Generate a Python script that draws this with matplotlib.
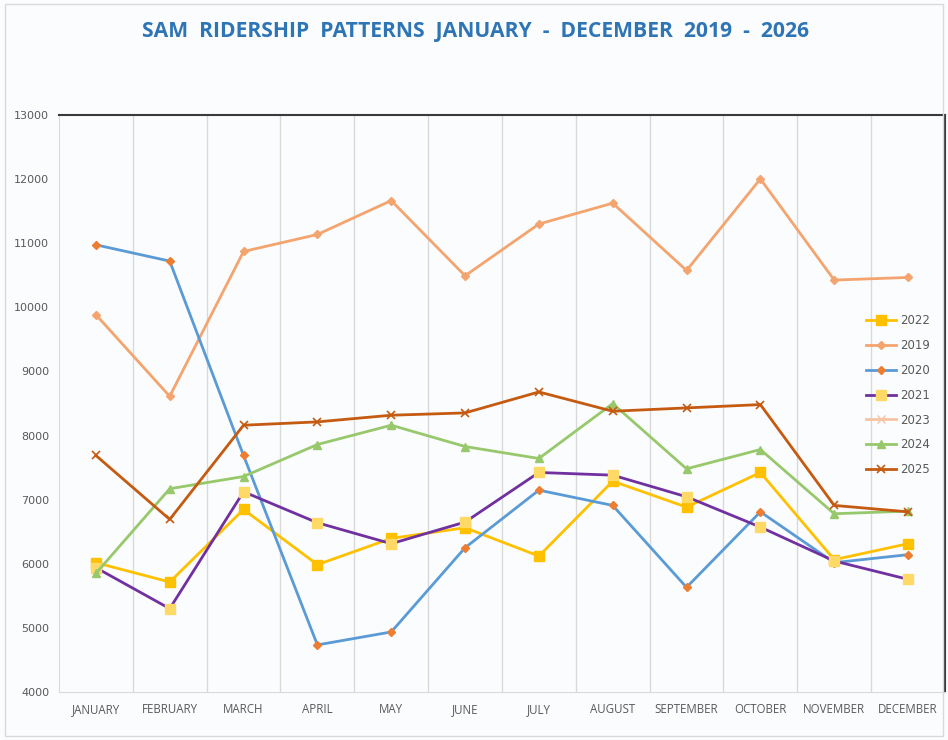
import matplotlib.pyplot as plt
from matplotlib.patches import Rectangle

months = ['JANUARY', 'FEBRUARY', 'MARCH', 'APRIL', 'MAY', 'JUNE', 'JULY',
          'AUGUST', 'SEPTEMBER', 'OCTOBER', 'NOVEMBER', 'DECEMBER']

# ridership per month
y2022 = [6017, 5715, 6847, 5986, 6396, 6562, 6120, 7288, 6883, 7424, 6064, 6313]
y2019 = [9885, 8612, 10871, 11136, 11665, 10492, 11299, 11625, 10575, 12003, 10425, 10466]
y2020 = [10975, 10721, 7689, 4734, 4936, 6250, 7148, 6910, 5632, 6810, 6017, 6142]
y2021 = [5939, 5300, 7123, 6640, 6313, 6650, 7424, 7382, 7045, 6572, 6043, 5757]
y2023 = []  # in the legend, no line drawn
y2024 = [5850, 7170, 7361, 7860, 8161, 7829, 7642, 8498, 7481, 7782, 6780, 6821]
y2025 = [7689, 6692, 8161, 8213, 8317, 8353, 8680, 8379, 8431, 8483, 6910, 6810]

yticks = [4000, 5000, 6000, 7000, 8000, 9000, 10000, 11000, 12000, 13000]

bg = '#FBFCFE'
fig = plt.figure(figsize=(9.48, 7.4), dpi=100, facecolor=bg)
fig.patches.append(Rectangle((0.005, 0.005), 0.99, 0.99, transform=fig.transFigure,
                             fill=False, edgecolor='#D9D9D9', linewidth=1))
ax = fig.add_axes([0.0622, 0.0649, 0.9346, 0.7797])
ax.set_facecolor(bg)

x = list(range(len(months)))

ax.plot(x, y2022, color='#FFC000', lw=2, marker='s', ms=7, mfc='#FFC000', mec='#FFC000', label='2022')
ax.plot(x, y2019, color='#F4A46E', lw=2, marker='D', ms=4.5, mfc='#F4A46E', mec='#F4A46E', label='2019')
ax.plot(x, y2020, color='#5B9BD5', lw=2, marker='D', ms=4.5, mfc='#ED7D31', mec='#ED7D31', label='2020')
ax.plot(x, y2021, color='#7030A0', lw=2, marker='s', ms=7, mfc='#FFD966', mec='#FFD966', label='2021')
ax.plot(x[:len(y2023)], y2023, color='#F8C3A0', lw=2, marker='x', ms=6, label='2023')
ax.plot(x, y2024, color='#98C86C', lw=2, marker='^', ms=6, mfc='#98C86C', mec='#98C86C', label='2024')
ax.plot(x, y2025, color='#C55A11', lw=2, marker='x', ms=6, mew=1.2, label='2025')

ax.set_xlim(-0.5, len(months) - 0.5)
ax.set_ylim(4000, 13000)
ax.set_yticks(yticks)
ax.set_yticklabels([str(v) for v in yticks])
ax.set_xticks(x)
ax.set_xticklabels(months)
ax.set_xticks([i + 0.5 for i in x[:-1]], minor=True)
ax.grid(True, which='minor', axis='x', color='#D9D9D9', lw=1)
ax.tick_params(axis='both', which='both', length=0)
ax.tick_params(axis='y', labelsize=8, labelcolor='#595959', pad=7)
ax.tick_params(axis='x', labelsize=8.3, labelcolor='#595959', pad=8)
for lab in ax.get_xticklabels():
    lab.set_fontfamily('Open Sans')

ax.spines['top'].set_color('#3A3A3A')
ax.spines['top'].set_linewidth(1.5)
ax.spines['right'].set_color('#3A3A3A')
ax.spines['right'].set_linewidth(1.5)
ax.spines['left'].set_color('#D9D9D9')
ax.spines['bottom'].set_color('#D9D9D9')

ax.legend(loc='upper right', bbox_to_anchor=(0.995, 0.673), frameon=False, fontsize=8.5,
          labelcolor='#595959', handlelength=2.6, handletextpad=0.3, labelspacing=1.0)

fig.text(0.502, 0.957, 'SAM  RIDERSHIP  PATTERNS  JANUARY  -  DECEMBER  2019  -  2026',
         ha='center', va='center', fontsize=15.2, fontweight='bold', color='#2E75B6',
         family='Open Sans')

fig.savefig('out.png', dpi=100, facecolor=bg)
